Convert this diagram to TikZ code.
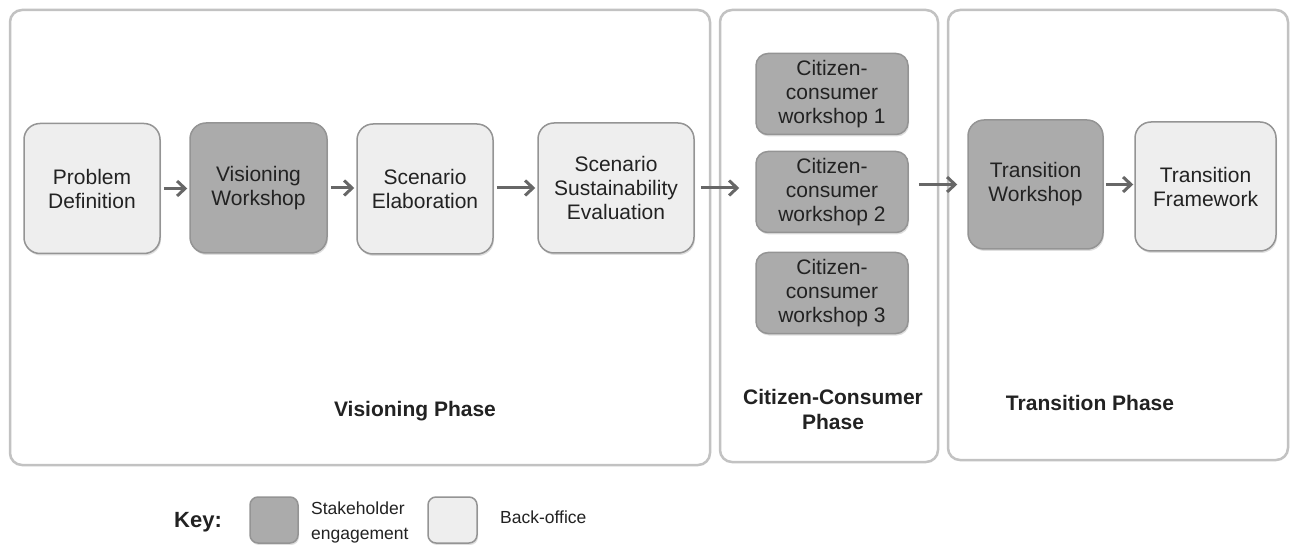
\documentclass[tikz,border=0pt]{standalone}
\usepackage{fontspec}
\setmainfont{Liberation Sans}
\usetikzlibrary{arrows.meta,shadows}
\definecolor{lightfill}{HTML}{EEEEEE}
\definecolor{darkfill}{HTML}{ABABAB}
\definecolor{boxline}{HTML}{949494}
\definecolor{panelline}{HTML}{C2C2C2}
\definecolor{arrowcol}{HTML}{676767}
\definecolor{txt}{HTML}{222222}
\tikzset{
  panel/.style={draw=panelline, line width=2.5pt, fill=white, rounded corners=12pt},
  basebox/.style={draw=boxline, line width=1.5pt, rounded corners=16pt, align=center, text=txt,
    font=\fontsize{21}{24}\selectfont, inner sep=0pt,
    drop shadow={opacity=0.25, shadow xshift=1pt, shadow yshift=-2pt}},
  lightbox/.style={basebox, fill=lightfill},
  darkbox/.style={basebox, fill=darkfill},
  bigbox/.style={minimum width=136pt, minimum height=130pt},
  cwbox/.style={darkbox, rounded corners=12pt, minimum width=152pt, minimum height=81pt},
  flow/.style={draw=arrowcol, line width=3pt, -{Straight Barb[length=8pt, width=15pt, line width=3pt]}},
  phase/.style={font=\bfseries\fontsize{21}{25}\selectfont, text=txt, align=center, inner sep=0pt},
  keytext/.style={font=\fontsize{17.5}{25}\selectfont, text=txt, align=left, inner sep=0pt, anchor=west}
}
\begin{document}
\begin{tikzpicture}[x=1pt, y=-1pt]
\path[use as bounding box, fill=white] (0,0) rectangle (1290,545);
% panels
\node[panel, minimum width=700pt, minimum height=455pt] (vp) at (360,237.5) {};
\node[panel, minimum width=218pt, minimum height=452pt] (cp) at (829,236) {};
\node[panel, minimum width=340pt, minimum height=450pt] (tp) at (1118,235) {};
% visioning phase boxes
\node[lightbox, bigbox] (pd) at (92,188.5) {Problem\\Definition};
\node[darkbox, bigbox, minimum width=137pt] (vw) at (258.5,188) {Visioning\\Workshop};
\node[lightbox, bigbox] (se) at (425,189) {Scenario\\Elaboration};
\node[lightbox, bigbox, minimum width=156pt] (sse) at (616,188) {Scenario\\Sustainability\\Evaluation};
% citizen-consumer workshops
\node[cwbox] (cw1) at (832,94) {Citizen-\\consumer\\workshop 1};
\node[cwbox] (cw2) at (832,192) {Citizen-\\consumer\\workshop 2};
\node[cwbox] (cw3) at (832,293) {Citizen-\\consumer\\workshop 3};
% transition boxes
\node[darkbox, bigbox, minimum width=135pt, minimum height=129pt] (tw) at (1035.5,184.5) {Transition\\Workshop};
\node[lightbox, bigbox, minimum width=141pt, minimum height=129pt] (tf) at (1205.5,186.5) {Transition\\Framework};
% arrows
\draw[flow, shorten <=3pt, shorten >=2pt] (pd.east) -- (vw.west |- pd.east);
\draw[flow, shorten <=3pt, shorten >=2pt] (vw.east) -- (se.west |- vw.east);
\draw[flow, shorten <=3pt, shorten >=2pt] (se.east |- sse.west) -- (sse.west);
\draw[flow, shorten <=6pt, shorten >=16pt] (sse.east) -- (sse.east -| cw2.west);
\draw[flow, shorten <=10pt, shorten >=10pt] (cw2.east |- tw.west) -- (tw.west);
\draw[flow, shorten <=2pt, shorten >=1pt] (tw.east) -- (tf.west |- tw.east);
% phase labels
\node[phase] (vpl) at (415,411) {Visioning Phase};
\node[phase] (cpl) at (833,409) {Citizen-Consumer\\Phase};
\node[phase] (tpl) at (1090,403) {Transition Phase};
% key
\node[font=\bfseries\fontsize{22}{26}\selectfont, text=txt, inner sep=0pt] (key) at (198,522) {Key:};
\node[darkbox, rounded corners=8pt, minimum width=48pt, minimum height=46pt] (kd) at (274,520) {};
\node[keytext] (kdt) at (311,522) {Stakeholder\\engagement};
\node[lightbox, rounded corners=8pt, minimum width=49pt, minimum height=46pt] (kl) at (452.5,520) {};
\node[keytext] (klt) at (500,517) {Back-office};
\end{tikzpicture}
\end{document}
